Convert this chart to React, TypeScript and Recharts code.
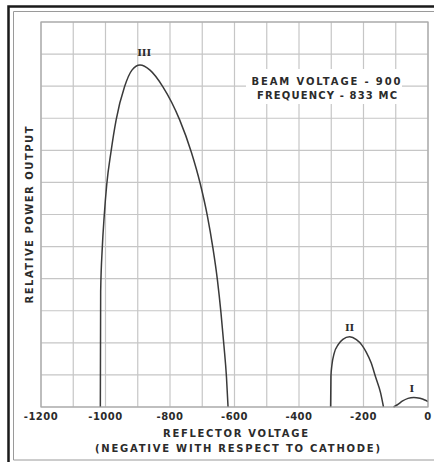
import { LineChart, Line, XAxis, YAxis, CartesianGrid, ReferenceDot } from 'recharts'

// reflector modes (volts, relative output)
const modeIII = [
  { x: -1016, v: 0 },
  { x: -1015, v: 3.6 },
  { x: -1010, v: 4.96 },
  { x: -1004, v: 5.95 },
  { x: -996, v: 6.95 },
  { x: -983, v: 7.95 },
  { x: -967, v: 8.95 },
  { x: -941, v: 9.98 },
  { x: -918, v: 10.5 },
  { x: -893, v: 10.66 },
  { x: -862, v: 10.5 },
  { x: -822, v: 9.98 },
  { x: -770, v: 8.95 },
  { x: -734, v: 7.95 },
  { x: -706, v: 6.95 },
  { x: -684, v: 5.95 },
  { x: -667, v: 4.96 },
  { x: -653, v: 3.96 },
  { x: -642, v: 2.94 },
  { x: -633, v: 1.94 },
  { x: -625, v: 0.95 },
  { x: -620, v: 0 },
]

const modeII = [
  { x: -302, v: 0 },
  { x: -301, v: 0.95 },
  { x: -298, v: 1.3 },
  { x: -291, v: 1.67 },
  { x: -278, v: 1.95 },
  { x: -264, v: 2.11 },
  { x: -243, v: 2.19 },
  { x: -222, v: 2.1 },
  { x: -205, v: 1.93 },
  { x: -192, v: 1.72 },
  { x: -176, v: 1.37 },
  { x: -163, v: 0.95 },
  { x: -147, v: 0.44 },
  { x: -138, v: 0 },
]

const modeI = [
  { x: -107, v: 0 },
  { x: -95, v: 0.07 },
  { x: -80, v: 0.18 },
  { x: -62, v: 0.27 },
  { x: -44, v: 0.3 },
  { x: -25, v: 0.27 },
  { x: -10, v: 0.22 },
  { x: 0, v: 0.17 },
]

const modeLabels = [
  { x: -880, v: 11.05, text: 'III' },
  { x: -243, v: 2.5, text: 'II' },
  { x: -50, v: 0.6, text: 'I' },
]

const xTicks = [-1200, -1100, -1000, -900, -800, -700, -600, -500, -400, -300, -200, -100, 0]
const xTickLabels: Record<number, string> = {
  '-1200': '-1200',
  '-1000': '-1000',
  '-800': '-800',
  '-600': '-600',
  '-400': '-400',
  '-200': '-200',
  '0': '0',
}
const yTicks = [0, 1, 2, 3, 4, 5, 6, 7, 8, 9, 10, 11, 12]

const ink = '#2b2b2b'
const font = '"DejaVu Sans", sans-serif'

function XTick({ x, y, payload }: any) {
  const label = xTickLabels[payload.value]
  if (!label) return null
  return (
    <text
      x={x}
      y={y + 13}
      textAnchor="middle"
      fill={ink}
      fontFamily={font}
      fontWeight="bold"
      fontSize={10}
      letterSpacing={0.5}
    >
      {label}
    </text>
  )
}

function ModeLabel({ viewBox, text }: any) {
  const cx = viewBox.x + (viewBox.width || 0) / 2
  const cy = viewBox.y + (viewBox.height || 0) / 2
  return (
    <text
      x={cx}
      y={cy + 4}
      textAnchor="middle"
      fill={ink}
      fontFamily='"DejaVu Serif", serif'
      fontWeight="bold"
      fontSize={10}
    >
      {text}
    </text>
  )
}

export default function App() {
  return (
    <div style={{ position: 'absolute', left: 0, top: 0, width: 434, height: 462, background: '#fff' }}>
      <LineChart width={434} height={462} margin={{ top: 22, right: 6, bottom: 35, left: 41 }}>
        <CartesianGrid
          stroke="#c6c6c6"
          strokeWidth={1.2}
          horizontalValues={yTicks}
          verticalValues={xTicks}
        />
        <XAxis
          dataKey="x"
          type="number"
          domain={[-1200, 0]}
          ticks={xTicks}
          interval={0}
          height={20}
          tickSize={0}
          tickMargin={0}
          axisLine={false}
          tick={<XTick />}
          allowDataOverflow
        />
        <YAxis
          type="number"
          domain={[0, 12]}
          ticks={yTicks}
          interval={0}
          width={0}
          tick={() => <g />}
          tickLine={false}
          axisLine={false}
        />
        <Line data={modeIII} dataKey="v" type="monotone" stroke="#3a3a3a" strokeWidth={1.5} dot={false} isAnimationActive={false} />
        <Line data={modeII} dataKey="v" type="monotone" stroke="#3a3a3a" strokeWidth={1.5} dot={false} isAnimationActive={false} />
        <Line data={modeI} dataKey="v" type="monotone" stroke="#3a3a3a" strokeWidth={1.5} dot={false} isAnimationActive={false} />
        {modeLabels.map((m) => (
          <ReferenceDot
            key={m.text}
            x={m.x}
            y={m.v}
            r={0}
            stroke="none"
            fill="none"
            label={<ModeLabel text={m.text} />}
          />
        ))}
      </LineChart>
      <svg
        width={434}
        height={462}
        style={{ position: 'absolute', left: 0, top: 0, pointerEvents: 'none' }}
      >
        {/* scan frame */}
        <path d="M8.5 462 V6.5 H434" fill="none" stroke="#1a1a1a" strokeWidth={2.5} />
        <path d="M13.5 460 V11.5 H434 M13.5 460 H434" fill="none" stroke="#9a9a9a" strokeWidth={1} />
        <rect x={41} y={22} width={387} height={385} fill="none" stroke="#a8a8a8" strokeWidth={1.2} />
        <rect x={246} y={69} width={156} height={35} fill="#fff" />
        <text x={326} y={84.5} textAnchor="middle" fill={ink} fontFamily={font} fontWeight="bold" fontSize={10} textLength={149} lengthAdjust="spacing">
          BEAM VOLTAGE - 900
        </text>
        <text x={327} y={99} textAnchor="middle" fill={ink} fontFamily={font} fontWeight="bold" fontSize={10} textLength={140} lengthAdjust="spacing">
          FREQUENCY - 833 MC
        </text>
        <text x={235.5} y={437} textAnchor="middle" fill={ink} fontFamily={font} fontWeight="bold" fontSize={10} textLength={145} lengthAdjust="spacing">
          REFLECTOR VOLTAGE
        </text>
        <text x={237.5} y={452} textAnchor="middle" fill={ink} fontFamily={font} fontWeight="bold" fontSize={10} textLength={285} lengthAdjust="spacing">
          (NEGATIVE WITH RESPECT TO CATHODE)
        </text>
        <text
          x={32.5}
          y={215}
          textAnchor="middle"
          transform="rotate(-90, 32.5, 215)"
          fill={ink}
          fontFamily={font}
          fontWeight="bold"
          fontSize={10}
          textLength={177}
          lengthAdjust="spacing"
        >
          RELATIVE POWER OUTPUT
        </text>
      </svg>
    </div>
  )
}
